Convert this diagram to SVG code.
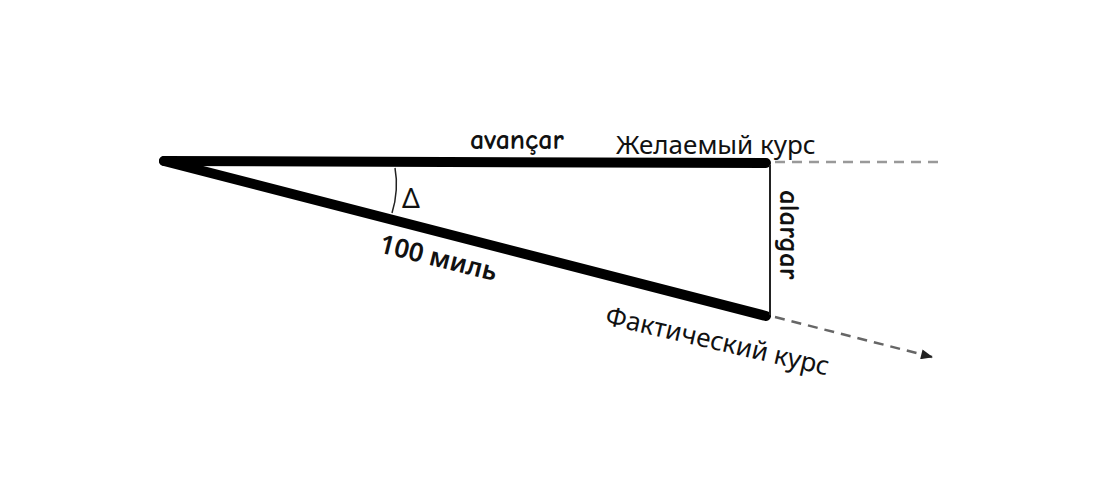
<svg xmlns="http://www.w3.org/2000/svg" width="1096" height="492" viewBox="0 0 1096 492">
<style>
.thick{stroke:#000;stroke-width:10;stroke-linecap:round;fill:none}
.thin{stroke:#222;stroke-width:2;fill:none}
.dash{stroke:#999;stroke-width:2.5;stroke-dasharray:10,7;fill:none}
.t{font-family:"Noto Sans","DejaVu Sans",sans-serif;fill:#111}
.c{font-family:"Comic Neue","Noto Sans","DejaVu Sans",sans-serif;fill:#111;font-weight:bold}
</style>
<defs>
<marker id="ah" viewBox="0 0 12 10" refX="11" refY="5" markerWidth="14" markerHeight="10" orient="auto" markerUnits="userSpaceOnUse">
<path d="M0,0 L12,5 L0,10 Z" fill="#222"/>
</marker>
</defs>
<rect width="1096" height="492" fill="#fff"/>
<g id="connectors">
<line class="thick" x1="164" y1="161" x2="766" y2="163"/>
<line class="thick" x1="164" y1="161" x2="766" y2="316"/>
<line class="thin" x1="770" y1="165" x2="770" y2="315"/>
<line class="dash" x1="775" y1="162" x2="940" y2="162"/>
<line class="dash" x1="775" y1="317" x2="932" y2="357" style="stroke:#666" marker-end="url(#ah)"/>
<path class="thin" d="M395,168 Q399,190 392,213" style="stroke-width:1.5"/>
</g>
<g id="labels">
<text class="c" x="470" y="149" font-size="28">avançar</text>
<text class="t" x="616" y="154" font-size="26">Желаемый курс</text>
<text class="t" x="402" y="208" font-size="28">Δ</text>
<text class="t" x="378" y="252" font-size="26" font-weight="600" transform="rotate(14 378 252)">100 миль</text>
<text class="t" x="604" y="324" font-size="26" transform="rotate(13 604 324)">Фактический курс</text>
<text class="c" x="780" y="190" font-size="29" transform="rotate(90 780 190)">alargar</text>
</g>
</svg>
